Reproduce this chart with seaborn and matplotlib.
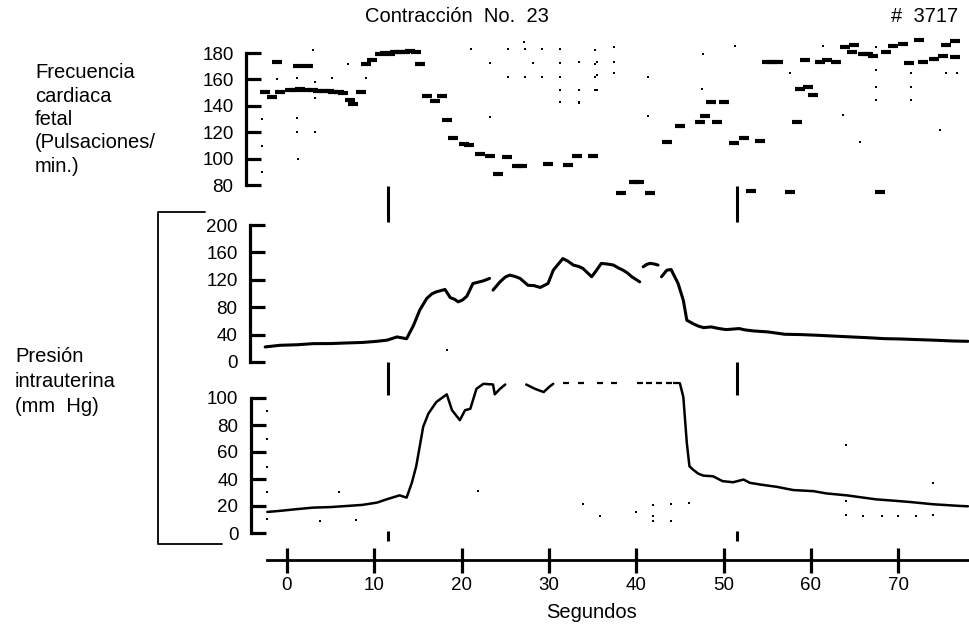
import numpy as np
import pandas as pd
import matplotlib
matplotlib.use('Agg')
import matplotlib.pyplot as plt
from matplotlib.lines import Line2D
import seaborn as sns

# ==================== 数据 ====================
# 胎心率：短横线 (秒, 次/分)
fhr_t = [-2.5, -1.76, -0.8, 0.34, 1.0, 1.5, 2.2, 3.0, 3.6, 4.2, 4.8, 5.3, 5.9, 6.45,
         7.2, 7.6, 8.5, 9.1, 9.7, 10.6, 11.2, 11.8, 12.4, 12.9, 13.5, 14.1, 14.8,
         15.2, 16.0, 16.9, 17.7, 18.3, 19.0, 20.3, 20.9, 22.1, 23.2, 24.2, 25.2,
         26.3, 26.9, 29.9, 32.2, 33.2, 35.1, 38.3, 39.7, 40.3, 41.6, 43.5, 45.0,
         47.3, 47.9, 48.6, 49.2, 50.0, 51.2, 52.3, 53.2, 54.2, 55.0, 55.6, 56.2,
         57.6, 58.4, 58.8, 59.7, 60.3, 59.3, 61.0, 61.8, 62.9, 63.9, 64.7, 65.0,
         66.0, 66.6, 67.1, 67.9, 68.6, 69.4, 70.6, 71.3, 72.4, 72.9, 74.1, 75.2,
         75.5, 76.5, 76.5, -1.2, 1.3, 2.4]
fhr_bpm = [150.75, 147, 150.75, 152, 152, 152.5, 152, 152, 151.5, 151, 151, 150.75, 150.5, 149.5,
           144.5, 141.5, 150.75, 172, 175, 179.5, 180, 179.5, 180.5, 181, 181, 181.5, 180.5,
           172, 147.5, 144, 147.5, 129.5, 115.75, 110.75, 110.5, 103.25, 102, 88.25, 101.5,
           94.5, 94.5, 95.75, 95, 102, 102, 74, 82, 82, 74, 112.5, 125,
           127.5, 132.5, 143, 127.5, 143, 112, 115.75, 75.75, 113, 173, 173, 173,
           74.5, 128, 153, 154.5, 148, 175, 173, 175, 173, 184.5, 180.75, 185.75,
           179, 179, 178, 75, 180.75, 185, 187, 172.5, 189.5, 173, 175.75, 178,
           185.75, 177, 189, 173, 170, 170]

# 胎心率记录中的孤立噪点
fhr_noise_t = [3.0, 1.1, 1.1, 3.2, 1.3, 7.0, 9.1, -2.9, -2.9, -2.9, 5.1, 23.2, 21.1,
               23.2, 25.3, 27.1, 27.3, 29.2, 28.2, 31.3, 31.3, 25.3, 27.3, 29.2, 31.3,
               31.3, 31.3, 33.4, 33.4, 33.4, 35.3, 35.3, 35.3, 35.3, 47.7, 51.3, 47.5,
               41.4, 41.4, 37.4, 37.4, 37.4, 35.5, 35.5, 35.5, 33.4, 33.4, 57.6, 63.7,
               65.6, 67.5, 67.5, 67.5, 67.5, 71.5, 71.5, 71.5, 74.8, 75.5, 76.7, 61.4,
               -1.2, 1.1, 3.2, 3.2]
fhr_noise_bpm = [182, 130.75, 120, 120, 99.5, 172, 160.75, 130, 109.5, 89.5, 160.75, 172.5, 183,
                 131.5, 183, 188, 183, 183, 172.5, 183, 172.5, 162, 162, 162, 162,
                 152, 143, 152, 143, 173, 182, 172, 162, 152, 179.5, 185, 153,
                 162, 132, 184.5, 173, 164.5, 173, 163, 152, 173, 142.5, 164.5, 133,
                 112.5, 184.5, 167, 154.5, 144.5, 164.5, 154.5, 144.5, 122, 164.5, 164.5, 185,
                 160, 161, 158, 146]

# 宫内压（0-200 量程），seg 为断开的曲线段
p200_t = [-2.5, -0.8, 1.2, 3.0, 5.0, 6.8, 8.6, 10.3, 11.5, 12.6, 13.7, 14.5, 15.2, 16.0,
          16.6, 17.1, 18.1, 18.7, 19.2, 19.6, 20.1, 20.6, 21.3, 21.9, 22.5, 23.2,
          23.6, 24.4, 25.0, 25.5, 26.1, 26.7, 27.6, 28.3, 29.0, 29.9, 30.5, 31.6, 32.2,
          32.8, 33.4, 33.9, 34.9, 35.4, 36.0, 36.7, 37.4, 38.0, 38.5, 39.0, 39.5, 40.4,
          40.8, 41.2, 41.6, 42.1, 42.5,
          42.9, 43.5, 44.0, 44.8, 45.4, 45.8, 46.5, 47.1, 47.7, 48.6, 49.4, 50.3, 51.0,
          51.8, 52.4, 53.4, 55.1, 57.0, 58.9, 60.8, 62.7, 64.6, 66.5, 68.4, 70.3, 72.2,
          74.2, 76.2, 78.0]
p200_val = [22, 24.4, 25.2, 26.8, 26.9, 27.8, 28.5, 30.2, 32.0, 36.6, 34, 53.7, 75.6, 92.7,
            99.5, 102.4, 105.9, 94, 91.5, 87.8, 90.5, 96, 114.6, 116.5, 118.5, 122,
            105, 117, 124.0, 126.8, 125.0, 122, 112, 111.5, 108.8, 114.6, 134, 151, 147.0,
            141.5, 139.5, 136.6, 124.4, 133.0, 143.9, 143.0, 141.5, 137.0, 134, 130.0, 124.4, 117,
            139, 142.5, 144, 143.0, 141.5,
            124.4, 134, 135, 114.6, 90, 61, 56, 52.5, 50.2, 51.2, 49.0, 47.3, 48.0,
            48.8, 47.0, 45.4, 43.9, 40.5, 40.0, 39, 37.8, 36.6, 35.5, 34.1, 33.6, 32.7,
            31.8, 30.7, 30.2]
p200_seg = [0] * 26 + [1] * 26 + [2] * 5 + [3] * 29

# 宫内压（0-100 量程，约 111 处饱和）
p100_t = [-2.25, -0.8, 1.0, 3.0, 5.0, 6.8, 8.6, 10.3, 11.4, 12.9, 13.7, 14.3, 14.8, 15.2,
          15.6, 16.2, 17.1, 18.3, 18.9, 19.8, 20.4, 21.0, 21.7, 22.5, 23.6, 23.8, 24.4,
          25.0,
          27.4, 28.4, 29.4, 30.1, 30.5,
          45.0, 45.4, 45.6, 45.8, 46.1, 46.5, 47.1, 47.7, 48.8, 49.9, 51.1, 52.3, 53.0,
          54.2, 56.1, 58.0, 60.3, 61.8, 64.1, 65.8, 67.5, 69.4, 71.3, 74.0, 77.2, 78.0]
p100_val = [15.6, 16.4, 17.6, 18.8, 19.2, 20, 20.8, 22.5, 24.9, 27.9, 26.2, 37.2, 49.4, 64,
            78.7, 88.5, 97, 102.7, 91, 83.6, 91, 92, 106.8, 110.5, 110, 102.7, 106.8,
            110,
            110, 106.8, 104.4, 108.6, 110.5,
            111, 100.7, 83.6, 66.5, 49.4, 47, 44.0, 42.5, 42, 38.4, 37.6, 39.6, 37.2,
            35.9, 34.2, 31.8, 31, 29.3, 27.9, 26.4, 24.9, 24.0, 23, 21.3, 20, 19.8]
p100_seg = [0] * 28 + [1] * 5 + [2] * 26

# 饱和段的虚点
sat_t = [32.0, 33.7, 35.8, 37.5, 40.4, 41.5, 42.6, 43.7, 44.6]
sat_val = [111, 111, 111, 111, 111, 111, 111, 111, 111]

p100_noise_t = [5.9, 3.8, 7.9, -2.25, -2.25, -2.25, -2.25, -2.25, 21.9, 33.9, 35.8, 40.0,
                41.9, 41.9, 41.9, 44.0, 44.0, 46.0, 64.0, 64.0, 64.0, 66.0, 68.1, 70.0,
                72.1, 74.0, 74.0]
p100_noise_val = [30.3, 9.0, 9.8, 10.3, 30.3, 90.5, 69.7, 49, 31, 21.3, 12.7, 15.2,
                  20.5, 12.7, 9, 21.3, 9, 22.5, 65.3, 23.7, 13.2, 12.7, 12.7, 12.7,
                  12.7, 13.2, 37.2]

# 事件标记时间（秒）
event_times = [11.6, 51.6]

x_ticks = [0, 10, 20, 30, 40, 50, 60, 70]
fhr_ticks = [80, 100, 120, 140, 160, 180]
p200_ticks = [0, 40, 80, 120, 160, 200]
p100_ticks = [0, 20, 40, 60, 80, 100]

# ==================== 样式 ====================
sns.set_theme(style='white')
plt.rcParams['font.family'] = ['Liberation Sans', 'DejaVu Sans']
plt.rcParams['text.color'] = 'black'
FS_TICK = 13.5
FS_LAB = 14.5

W, H = 969, 628
fig = plt.figure(figsize=(W / 100, H / 100), dpi=100)


def axes_px(x0, y0, x1, y1):
    return fig.add_axes([x0 / W, 1 - y1 / H, (x1 - x0) / W, (y1 - y0) / H])


def t_at(px):
    # 0 s 在 287 px，每 10 s 87.3 px
    return (px - 287) / 8.73


def lin(py, va, pya, vb, pyb):
    return va + (py - pya) * (vb - va) / (pyb - pya)


def style_panel(ax, ticks, spine_px, right_px, top_px, bot_px, va, pya, vb, pyb):
    ax.set_xlim(t_at(spine_px), t_at(right_px))
    ax.set_ylim(lin(bot_px, va, pya, vb, pyb), lin(top_px, va, pya, vb, pyb))
    ax.patch.set_alpha(0)
    for s in ['top', 'right', 'bottom']:
        ax.spines[s].set_visible(False)
    ax.spines['left'].set_color('black')
    ax.spines['left'].set_linewidth(2.3)
    ax.spines['left'].set_bounds(ticks[0], ticks[-1])
    ax.set_yticks(ticks)
    ax.set_yticklabels([str(v) for v in ticks])
    ax.tick_params(axis='y', left=True, direction='in', length=11, width=2.3,
                   color='black', labelsize=FS_TICK, pad=9, labelcolor='black')
    ax.set_xticks([])
    ax.set_xlabel('')
    ax.set_ylabel('')


# ---------- 胎心率 ----------
ax1 = axes_px(246, 25, W, 205)
sns.scatterplot(x=fhr_noise_t, y=fhr_noise_bpm, marker='s', s=4, color='black',
                linewidth=0, ax=ax1, clip_on=False)
sns.scatterplot(x=fhr_t, y=fhr_bpm, marker='_', s=55, linewidth=3, color='black',
                ax=ax1, clip_on=False)
style_panel(ax1, fhr_ticks, 246, W, 25, 205, 180, 53, 80, 185)

# ---------- 宫内压 0-200 ----------
ax2 = axes_px(250, 215, W, 372)
df200 = pd.DataFrame({'t': p200_t, 'p': p200_val, 'seg': p200_seg})
sns.lineplot(data=df200, x='t', y='p', units='seg', estimator=None, sort=False,
             color='black', lw=2.2, ax=ax2)
sns.scatterplot(x=[18.3], y=[18], marker='s', s=4, color='black', linewidth=0, ax=ax2)
style_panel(ax2, p200_ticks, 250, W, 215, 372, 200, 225, 0, 362)

# ---------- 宫内压 0-100 ----------
ax3 = axes_px(251, 375, W, 541)
df100 = pd.DataFrame({'t': p100_t, 'p': p100_val, 'seg': p100_seg})
sns.lineplot(data=df100, x='t', y='p', units='seg', estimator=None, sort=False,
             color='black', lw=1.8, ax=ax3)
sns.scatterplot(x=sat_t, y=sat_val, marker='_', s=25, linewidth=1.6, color='black', ax=ax3)
sns.scatterplot(x=p100_noise_t, y=p100_noise_val, marker='s', s=4, color='black',
                linewidth=0, ax=ax3)
style_panel(ax3, p100_ticks, 251, W, 375, 541, 100, 398, 0, 533)

# ---------- 时间轴 ----------
axx = axes_px(240, 530, W, 560)
axx.set_xlim(t_at(240), t_at(W))
axx.patch.set_alpha(0)
for s in ['top', 'right', 'left']:
    axx.spines[s].set_visible(False)
axx.spines['bottom'].set_color('black')
axx.spines['bottom'].set_linewidth(2.0)
axx.spines['bottom'].set_bounds(t_at(267), t_at(W))
axx.set_yticks([])
axx.set_xticks(x_ticks)
axx.set_xticklabels([str(v) for v in x_ticks])
axx.tick_params(axis='x', bottom=True, direction='inout', length=18, width=2.3,
                color='black', labelsize=FS_TICK, pad=3, labelcolor='black')

# ---------- 事件标记、括号 ----------
ov = fig.add_axes([0, 0, 1, 1])
ov.set_xlim(t_at(0), t_at(W))
ov.set_ylim(H, 0)
ov.axis('off')
ov.patch.set_alpha(0)
for y0, y1 in [(186, 222), (362, 395), (531, 541)]:
    ov.vlines(event_times, y0, y1, color='black', lw=2.2)

bx = [205, 158, 158, 222]
by = [212, 212, 544, 544]
fig.add_artist(Line2D([v / W for v in bx], [1 - v / H for v in by],
                      color='black', lw=1.3))

# ---------- 文字 ----------
fig.text(457 / W, 1 - 16 / H, 'Contracción  No.  23', ha='center', va='center', fontsize=FS_LAB)
fig.text(925 / W, 1 - 16 / H, '#  3717', ha='center', va='center', fontsize=FS_LAB)
fig.text(592 / W, 1 - 612 / H, 'Segundos', ha='center', va='center', fontsize=FS_LAB)

for i, s in enumerate(['Frecuencia', 'cardiaca', 'fetal', '(Pulsaciones/', 'min.)']):
    fig.text(35 / W, 1 - (73 + i * 23.3) / H, s, ha='left', va='center', fontsize=FS_LAB)
for i, s in enumerate(['Presión', 'intrauterina', '(mm  Hg)']):
    fig.text(15 / W, 1 - (357 + i * 24.5) / H, s, ha='left', va='center', fontsize=FS_LAB)

plt.savefig('out.png', dpi=100, facecolor='white')
